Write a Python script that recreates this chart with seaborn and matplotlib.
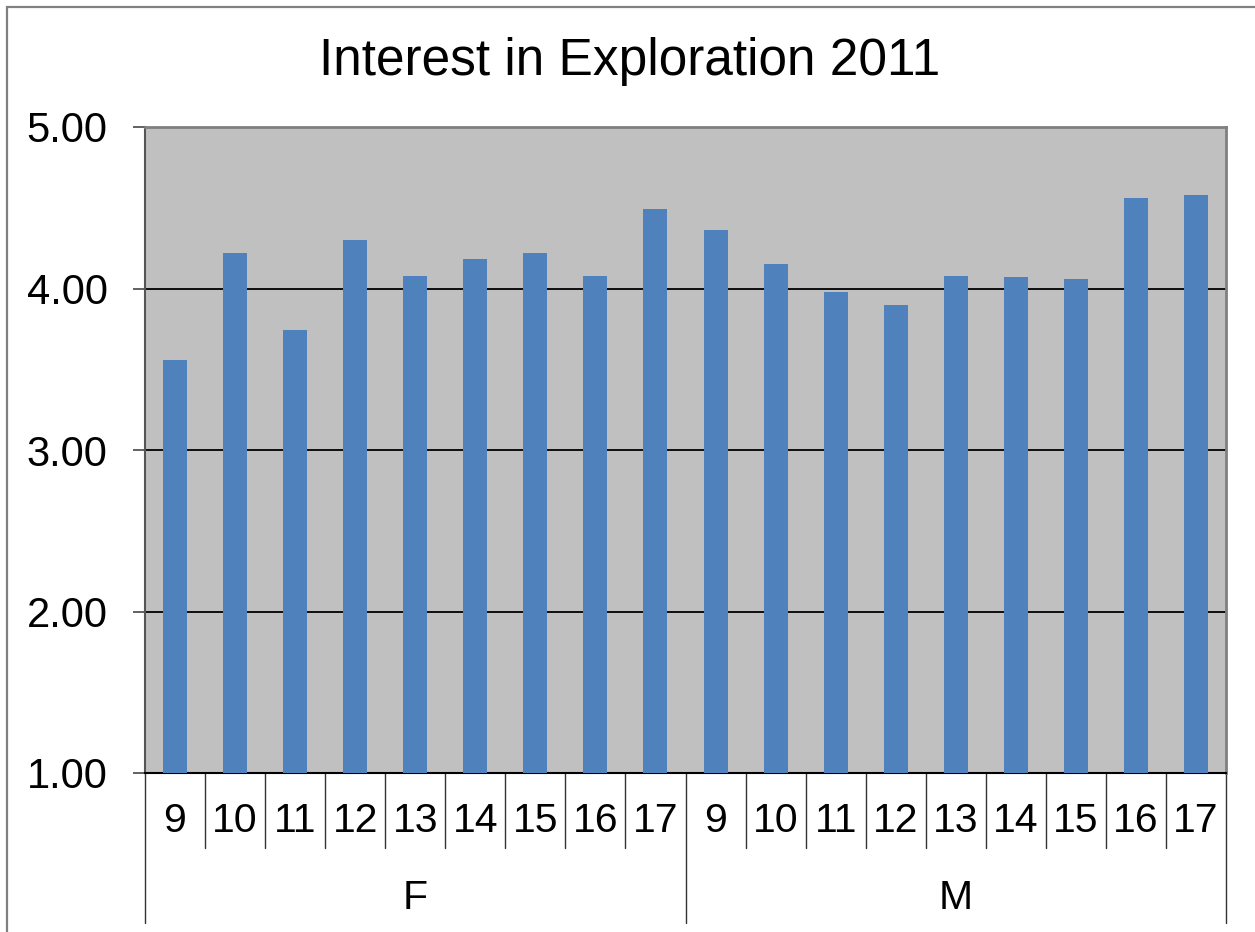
import matplotlib
matplotlib.use("Agg")
import matplotlib.pyplot as plt
import matplotlib.transforms as mtransforms
from matplotlib.lines import Line2D
from matplotlib.patches import Rectangle
import seaborn as sns
import pandas as pd

sns.set_theme(style="white")
plt.rcParams['font.family'] = ['Liberation Sans', 'DejaVu Sans']

genders = ["F", "M"]
ages = ["9", "10", "11", "12", "13", "14", "15", "16", "17"]
values_f = [3.56, 4.22, 3.74, 4.30, 4.08, 4.18, 4.22, 4.08, 4.49]
values_m = [4.36, 4.15, 3.98, 3.90, 4.08, 4.07, 4.06, 4.56, 4.58]
title = "Interest in Exploration 2011"
yticks = [1, 2, 3, 4, 5]

rows = []
for g, vals in zip(genders, [values_f, values_m]):
    for a, v in zip(ages, vals):
        rows.append({"key": f"{g}-{a}", "gender": g, "age": a, "value": v})
df = pd.DataFrame(rows)
order = list(df["key"])

W, H = 1255, 932
fig = plt.figure(figsize=(W / 100, H / 100), dpi=100)
ax = fig.add_axes([145 / W, 1 - 773 / H, 1081 / W, 646 / H])
ax.set_facecolor("#C0C0C0")

sns.barplot(data=df, x="key", y="value", order=order, color="#4F81BD",
            saturation=1, width=0.4, ax=ax, zorder=3, edgecolor="none")

n = len(order)
ax.set_xlim(-0.5, n - 0.5)
ax.set_ylim(1, 5)
ax.set_yticks(yticks)
ax.set_yticklabels([f"{t:.2f}" for t in yticks])
ax.set_xlabel("")
ax.set_ylabel("")
ax.set_title("")

for y in yticks[1:-1]:
    ax.axhline(y, color="black", lw=1.3, zorder=2)

for side in ["top", "right"]:
    ax.spines[side].set_color("#808080")
    ax.spines[side].set_linewidth(2)
ax.spines["left"].set_color("#555555")
ax.spines["left"].set_linewidth(1.5)
ax.spines["bottom"].set_color("black")
ax.spines["bottom"].set_linewidth(1.5)

ax.tick_params(axis="y", which="major", direction="out", length=9, width=1.3,
               color="#555555", pad=18, labelsize=30, left=True)
ax.set_xticks(range(n))
ax.set_xticklabels([r["age"] for r in rows])
ax.tick_params(axis="x", which="major", length=0, pad=21, labelsize=29.5)
for lab in ax.get_yticklabels() + ax.get_xticklabels():
    lab.set_color("black")

trans = mtransforms.blended_transform_factory(ax.transData, ax.transAxes)
ax_h = 646
short = 75 / ax_h
long = 150 / ax_h
ng = len(ages)
for i in range(n + 1):
    xb = i - 0.5
    if i % ng == 0:
        ax.add_line(Line2D([xb, xb], [0, -long], transform=trans, color="#333333",
                           lw=1.0, clip_on=False))
    else:
        ax.add_line(Line2D([xb, xb], [0, -short], transform=trans, color="#333333",
                           lw=1.0, clip_on=False))

for gi, g in enumerate(genders):
    xc = gi * ng + (ng - 1) / 2
    ax.text(xc, -125 / ax_h, g, transform=trans, ha="center", va="center",
            fontsize=29.5, color="black")

fig.text(630 / W, 1 - 75 / H, title, ha="center", va="baseline", fontsize=37, color="black")

fig.patches.append(Rectangle((7 / W, -0.1), 1.2, 1 - 7 / H + 0.1, transform=fig.transFigure,
                             fill=False, edgecolor="#808080", lw=1.6, zorder=0))

fig.savefig("out.png", dpi=100)
